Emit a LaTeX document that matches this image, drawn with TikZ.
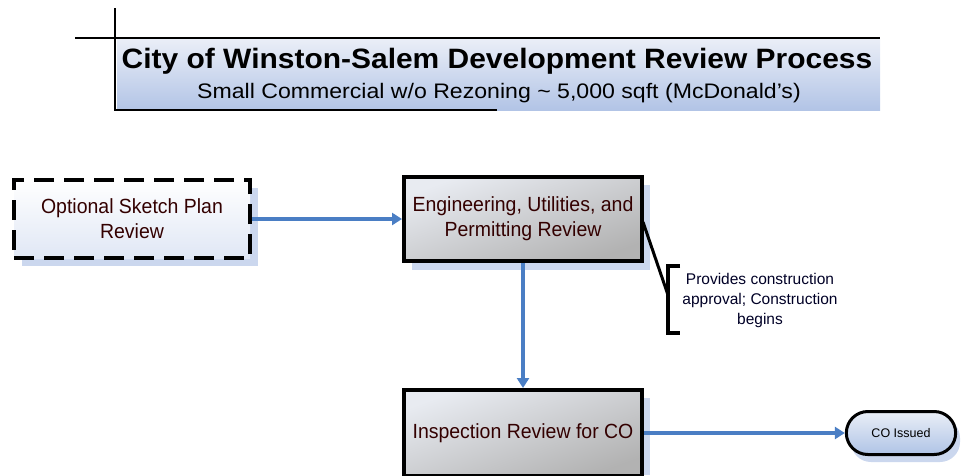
\documentclass[tikz,border=0pt]{standalone}
\usepackage{fontspec}
\setmainfont{Liberation Sans}
\newfontfamily\titlefont[FakeStretch=1.07]{Liberation Sans}
\newfontfamily\subfont[FakeStretch=1.1]{Liberation Sans}
\newfontfamily\boxfont[FakeStretch=0.95]{Liberation Sans}
\usetikzlibrary{arrows.meta,shapes.misc}
\definecolor{arrowblue}{HTML}{4A7EC4}
\definecolor{shadowblue}{HTML}{CBD7EE}
\definecolor{titletop}{HTML}{EAEEF7}
\definecolor{titlebot}{HTML}{B2C4E6}
\definecolor{graytop}{HTML}{E8EBF1}
\definecolor{graybot}{HTML}{B2B2B2}
\definecolor{lightbluebot}{HTML}{AFC3E6}
\tikzset{
  conn/.style={draw=arrowblue, line width=3.2pt, -{Triangle[length=10pt,width=12pt]}},
  procbox/.style={draw=black, line width=4pt, minimum width=238pt, minimum height=84pt,
    top color=graytop, bottom color=graybot, shading angle=20, align=center,
    font=\boxfont\fontsize{20.5}{25}\selectfont, text=black!80!red},
  dashbox/.style={draw=black, line width=4pt, dash pattern=on 20pt off 10pt,
    minimum width=236pt, minimum height=78pt, top color=white, bottom color=shadowblue!60,
    align=center, font=\boxfont\fontsize{20.5}{25}\selectfont, text=black!80!red},
  endbox/.style={draw=black, line width=3pt, rounded rectangle, minimum width=116pt,
    minimum height=43pt, top color=titletop, bottom color=lightbluebot,
    font=\fontsize{12.5}{14}\selectfont},
  shadowrect/.style={fill=shadowblue}
}
\begin{document}
\begin{tikzpicture}[x=1pt,y=-1pt]
\useasboundingbox (0,0) rectangle (961,475);
% title
\shade[top color=titletop, bottom color=titlebot] (117,39) rectangle (880,110);
\draw[line width=1.3pt] (115,8) -- (115,110) -- (497,110);
\draw[line width=1.3pt] (75,38) -- (880,38);
\node[font=\titlefont\bfseries\fontsize{28}{32}\selectfont] (title) at (497,61) {City of Winston-Salem Development Review Process};
\node[font=\subfont\fontsize{21}{24}\selectfont] (sub) at (499,93) {Small Commercial w/o Rezoning \textasciitilde\ 5,000 sqft (McDonald’s)};
% shadows
\fill[shadowrect] (22,188) rectangle (258,266);
\fill[shadowrect] (412,185) rectangle (650,270);
\fill[shadowrect] (412,398) rectangle (650,475);
\fill[shadowrect, rounded corners=20pt] (851,418) rectangle (960,462);
% nodes
\node[dashbox] (sketch) at (132,219) {Optional Sketch Plan\\Review};
\node[procbox] (eng) at (523,219) {Engineering, Utilities, and\\Permitting Review};
\node[procbox, minimum height=86pt] (insp) at (523,433) {Inspection Review for CO};
\node[endbox] (co) at (901,433) {CO Issued};
% annotation
\node[align=center, font=\fontsize{15.5}{20}\selectfont, text=black!85!blue] (note) at (760,300) {Provides construction\\approval; Construction\\begins};
\coordinate (bk) at (668,295);
\coordinate (ec) at (643,222);
\draw[line width=3.5pt] (680,266) -- (668,266) -- (668,333) -- (680,333);
\draw[line width=3pt] (ec) -- (bk);
% connectors
\draw[conn] (sketch.east) -- (eng.west);
\draw[conn] (eng.south) -- (insp.north);
\draw[conn] (insp.east) -- (co.west);
\end{tikzpicture}
\end{document}
